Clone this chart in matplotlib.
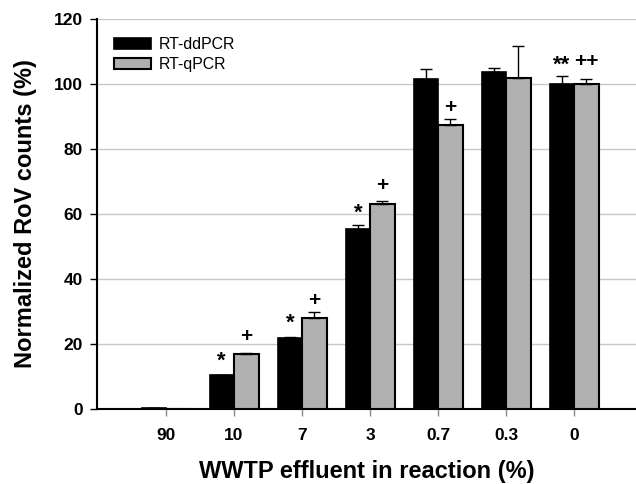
import numpy as np
import matplotlib.pyplot as plt

plt.rcParams['font.family'] = ['Liberation Sans', 'DejaVu Sans']

categories = ['90', '10', '7', '3', '0.7', '0.3', '0']
ddpcr = [0.3, 10.3, 21.7, 55.4, 101.5, 103.8, 100.0]
ddpcr_err = [0.0, 0.3, 0.5, 1.1, 3.2, 1.2, 2.3]
qpcr = [0.0, 16.9, 28.0, 63.2, 87.3, 101.8, 100.0]
qpcr_err = [0.0, 0.3, 1.8, 0.7, 2.0, 10.0, 1.5]
# significance marks and their heights (visual centre, % units)
ddpcr_marks = ['', '*', '*', '*', '', '', '**']
ddpcr_mark_y = [0, 16.0, 27.6, 61.4, 0, 0, 107.0]
qpcr_marks = ['', '+', '+', '+', '+', '', '++']
qpcr_mark_y = [0, 22.4, 33.5, 68.7, 92.7, 0, 107.0]

x = np.arange(len(categories))
w = 0.36

fig = plt.figure(figsize=(6.36, 4.84), dpi=100)
ax = fig.add_axes([0.1525, 0.155, 0.8475, 0.806])

ax.yaxis.grid(True, color='#c8c8c8', linewidth=1.0, zorder=0)
ax.set_axisbelow(True)

ax.bar(x - w / 2, ddpcr, w, color='black', edgecolor='black', linewidth=1.2,
       label='RT-ddPCR', zorder=3)
ax.bar(x + w / 2, qpcr, w, color='#b0b0b0', edgecolor='black', linewidth=1.5,
       label='RT-qPCR', zorder=3)
ax.errorbar(x - w / 2, ddpcr, yerr=[np.zeros(len(x)), ddpcr_err], fmt='none',
            ecolor='black', elinewidth=1, capsize=4, capthick=1, zorder=4)
ax.errorbar(x + w / 2, qpcr, yerr=[np.zeros(len(x)), qpcr_err], fmt='none',
            ecolor='black', elinewidth=1, capsize=4, capthick=1, zorder=4)

for i in range(len(x)):
    if ddpcr_marks[i]:
        # asterisk glyph sits high in the em box, shift down a bit
        ax.text(x[i] - w / 2, ddpcr_mark_y[i] - 1.2, ddpcr_marks[i], ha='center', va='center',
                fontsize=16, fontweight='bold', zorder=5)
    if qpcr_marks[i]:
        ax.text(x[i] + w / 2, qpcr_mark_y[i], qpcr_marks[i], ha='center', va='center',
                fontsize=15, fontweight='bold', zorder=5)

ax.set_xlim(-1.015, 6.91)
ax.set_ylim(0, 120)
ax.set_yticks(range(0, 121, 20))
ax.set_xticks(x)
ax.set_xticklabels(categories)
ax.tick_params(axis='y', direction='out', length=5, width=1, labelsize=12.5, pad=5)
ax.tick_params(axis='x', direction='out', length=5, width=1, color='#888888',
               labelsize=12.5, pad=9)
for lab in ax.get_xticklabels() + ax.get_yticklabels():
    lab.set_fontweight('bold')

for s in ['top', 'right']:
    ax.spines[s].set_visible(False)
ax.spines['left'].set_linewidth(1.5)
ax.spines['bottom'].set_linewidth(1.5)

ax.set_xlabel('WWTP effluent in reaction (%)', fontsize=17, fontweight='bold', labelpad=12)
ax.set_ylabel('Normalized RoV counts (%)', fontsize=17, fontweight='bold', labelpad=12)

ax.legend(loc='upper left', bbox_to_anchor=(0.005, 0.99), frameon=False, fontsize=11.4,
          handlelength=2.35, handleheight=0.7, handletextpad=0.5, labelspacing=0.3)

fig.savefig('out.png', dpi=100)
